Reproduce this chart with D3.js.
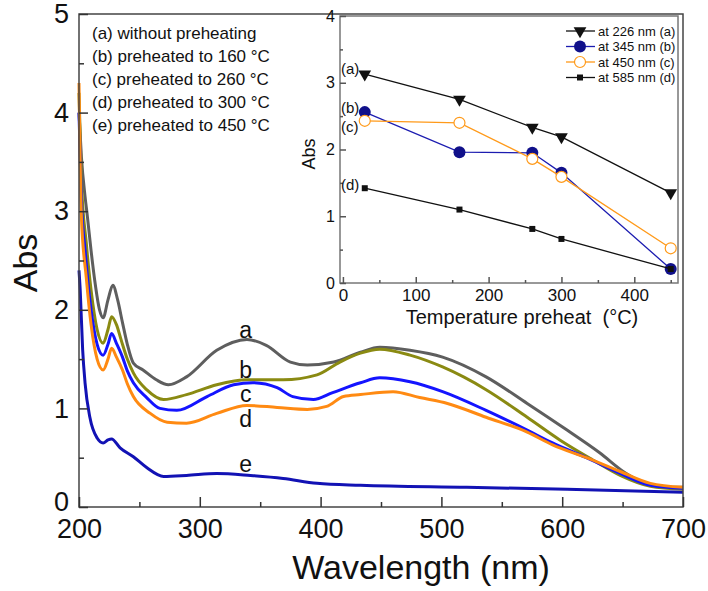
<!DOCTYPE html>
<html>
<head>
<meta charset="utf-8">
<script src="https://cdn.jsdelivr.net/npm/d3@7"></script>
<style>
  body { margin: 0; background: #fff; }
  svg text { font-family: "Liberation Sans", Arial, sans-serif; }
</style>
</head>
<body>
<svg id="chart" width="708" height="591"></svg>
<script>
// main spectra: [wavelength nm, absorbance]
const curveA = [[200, 4.0], [202, 3.55], [205, 3.15], [207, 2.94], [210, 2.6], [213, 2.3], [217, 2.0], [220, 1.92], [224, 2.1], [228, 2.25], [232, 2.1], [236, 1.87], [240, 1.65], [245, 1.46], [253, 1.39], [264, 1.29], [274, 1.24], [289, 1.32], [314, 1.59], [339, 1.70], [355, 1.64], [375, 1.47], [389, 1.44], [411, 1.47], [433, 1.57], [449, 1.62], [474, 1.59], [501, 1.52], [537, 1.32], [571, 1.05], [604, 0.78], [631, 0.55], [653, 0.34], [673, 0.22], [687, 0.20], [700, 0.20]];
const curveB = [[200, 4.2], [202, 3.3], [206, 2.68], [210, 2.2], [215, 1.8], [220, 1.66], [224, 1.8], [227, 1.93], [231, 1.85], [235, 1.69], [240, 1.5], [245, 1.36], [256, 1.19], [270, 1.09], [289, 1.14], [314, 1.24], [339, 1.29], [369, 1.29], [397, 1.34], [416, 1.47], [433, 1.56], [449, 1.60], [474, 1.54], [501, 1.42], [537, 1.19], [571, 0.91], [598, 0.68], [625, 0.48], [648, 0.32], [673, 0.21], [700, 0.18]];
const curveC = [[200, 4.0], [202, 3.1], [205, 2.61], [210, 2.0], [215, 1.65], [220, 1.54], [224, 1.65], [227, 1.76], [231, 1.66], [236, 1.52], [240, 1.38], [245, 1.26], [256, 1.11], [267, 1.00], [281, 0.98], [306, 1.12], [328, 1.24], [344, 1.26], [364, 1.21], [377, 1.12], [394, 1.09], [410, 1.16], [433, 1.26], [449, 1.31], [474, 1.27], [501, 1.17], [537, 0.98], [571, 0.78], [592, 0.65], [620, 0.50], [648, 0.34], [673, 0.22], [700, 0.19]];
const curveD = [[200, 4.3], [202, 2.94], [206, 2.33], [210, 1.85], [215, 1.5], [220, 1.39], [224, 1.5], [227, 1.61], [231, 1.52], [236, 1.39], [240, 1.25], [245, 1.12], [259, 0.95], [273, 0.86], [289, 0.85], [314, 0.95], [339, 1.03], [364, 1.01], [389, 0.99], [405, 1.02], [419, 1.12], [433, 1.14], [460, 1.17], [482, 1.11], [505, 1.05], [537, 0.91], [571, 0.76], [592, 0.63], [620, 0.50], [648, 0.36], [673, 0.24], [700, 0.20]];
const curveE = [[200, 2.4], [201, 2.2], [203, 1.6], [205, 1.26], [209, 0.91], [215, 0.70], [220, 0.65], [224, 0.68], [227, 0.69], [234, 0.60], [245, 0.51], [256, 0.40], [270, 0.31], [289, 0.32], [314, 0.34], [342, 0.32], [369, 0.29], [397, 0.24], [433, 0.22], [521, 0.20], [604, 0.18], [700, 0.15]];

const curveNames = ['a', 'b', 'c', 'd', 'e'];
const curveColors = ['#5e5e5e', '#8a8a12', '#1414ff', '#ff8a12', '#1212b4'];
const legendLines = ['(a) without preheating', '(b) preheated to 160 °C', '(c) preheated to 260 °C', '(d) preheated to 300 °C', '(e) preheated to 450 °C'];

// inset: absorbance vs preheat temperature
const preheatTemps = [30, 160, 260, 300, 450];
const abs226 = [3.13, 2.75, 2.33, 2.19, 1.35];
const abs345 = [2.56, 1.96, 1.95, 1.65, 0.21];
const abs450 = [2.43, 2.40, 1.86, 1.59, 0.52];
const abs585 = [1.42, 1.10, 0.81, 0.66, 0.21];
const insetLabels = ['at 226 nm (a)', 'at 345 nm (b)', 'at 450 nm (c)', 'at 585 nm (d)'];

const svg = d3.select('#chart');

// ---------- main plot ----------
const m = { left: 79, top: 14, right: 683, bottom: 507 };
const x = d3.scaleLinear().domain([200, 700]).range([m.left, m.right]);
const y = d3.scaleLinear().domain([0, 5]).range([m.bottom, m.top]);

const line = d3.line().x(d => x(d[0])).y(d => y(d[1])).curve(d3.curveMonotoneX);

[curveA, curveB, curveC, curveD, curveE].forEach((c, i) => {
  svg.append('path')
    .datum(c)
    .attr('d', line)
    .attr('fill', 'none')
    .attr('stroke', curveColors[i])
    .attr('stroke-width', 3);
});

// frame
svg.append('rect')
  .attr('x', m.left).attr('y', m.top)
  .attr('width', m.right - m.left).attr('height', m.bottom - m.top)
  .attr('fill', 'none').attr('stroke', '#444').attr('stroke-width', 1.5);

function styleAxis(g, size, color) {
  g.select('.domain').remove();
  g.selectAll('line').attr('stroke', color).attr('stroke-width', 1.5);
  g.selectAll('text').attr('font-size', size).attr('fill', '#111');
}

// x axis
svg.append('g').attr('transform', `translate(0,${m.bottom})`)
  .call(d3.axisBottom(x).tickValues(d3.range(250, 700, 100)).tickSize(-5).tickFormat(''))
  .call(g => styleAxis(g, 27, '#333'));
svg.append('g').attr('transform', `translate(0,${m.bottom})`)
  .call(d3.axisBottom(x).tickValues(d3.range(200, 701, 100)).tickSize(-10).tickPadding(12).tickFormat(d3.format('d')))
  .call(g => styleAxis(g, 27, '#333'));

// y axis
svg.append('g').attr('transform', `translate(${m.left},0)`)
  .call(d3.axisLeft(y).tickValues([0.5, 1.5, 2.5, 3.5, 4.5]).tickSize(-5).tickFormat(''))
  .call(g => styleAxis(g, 27, '#333'));
svg.append('g').attr('transform', `translate(${m.left},0)`)
  .call(d3.axisLeft(y).tickValues([0, 1, 2, 3, 4, 5]).tickSize(-9).tickPadding(10).tickFormat(d3.format('d')))
  .call(g => styleAxis(g, 27, '#333'))
  .call(g => g.selectAll('.tick').filter(d => d === 0).select('text').attr('dy', '0.12em'));

svg.append('text')
  .attr('x', 421).attr('y', 579)
  .attr('text-anchor', 'middle').attr('font-size', 34).attr('fill', '#111')
  .text('Wavelength (nm)');
svg.append('text')
  .attr('transform', 'translate(37,263) rotate(-90)')
  .attr('text-anchor', 'middle').attr('font-size', 34).attr('fill', '#111')
  .text('Abs');

// legend text
legendLines.forEach((t, i) => {
  svg.append('text')
    .attr('x', 92).attr('y', 39 + i * 23)
    .attr('font-size', 17).attr('fill', '#111')
    .text(t);
});

// curve labels
const curveLabelY = [338, 378, 402, 427, 472];
curveNames.forEach((n, i) => {
  svg.append('text')
    .attr('x', x(338)).attr('y', curveLabelY[i])
    .attr('text-anchor', 'middle').attr('font-size', 23).attr('fill', '#111')
    .text(n);
});

// ---------- inset ----------
const im = { left: 340, top: 16, right: 678, bottom: 283 };
const ix = d3.scaleLinear().domain([-4, 460]).range([im.left, im.right]);
const iy = d3.scaleLinear().domain([0, 4]).range([im.bottom, im.top]);

svg.append('rect')
  .attr('x', im.left).attr('y', im.top)
  .attr('width', im.right - im.left).attr('height', im.bottom - im.top)
  .attr('fill', '#fff').attr('stroke', '#777').attr('stroke-width', 1.5);

svg.append('g').attr('transform', `translate(0,${im.bottom})`)
  .call(d3.axisBottom(ix).tickValues([50, 150, 250, 350, 450]).tickSize(-3).tickFormat(''))
  .call(g => styleAxis(g, 17, '#555'));
svg.append('g').attr('transform', `translate(0,${im.bottom})`)
  .call(d3.axisBottom(ix).tickValues([0, 100, 200, 300, 400]).tickSize(-6).tickPadding(6).tickFormat(d3.format('d')))
  .call(g => styleAxis(g, 17, '#555'));
svg.append('g').attr('transform', `translate(${im.left},0)`)
  .call(d3.axisLeft(iy).tickValues([0.5, 1.5, 2.5, 3.5]).tickSize(-3).tickFormat(''))
  .call(g => styleAxis(g, 16, '#555'));
svg.append('g').attr('transform', `translate(${im.left},0)`)
  .call(d3.axisLeft(iy).tickValues([0, 1, 2, 3, 4]).tickSize(-6).tickPadding(5).tickFormat(d3.format('d')))
  .call(g => styleAxis(g, 16, '#555'));

svg.append('text')
  .attr('x', 522).attr('y', 324)
  .attr('text-anchor', 'middle').attr('font-size', 20).attr('fill', '#111')
  .style('white-space', 'pre')
  .text('Temperature preheat  (°C)');
svg.append('text')
  .attr('transform', 'translate(315,154) rotate(-90)')
  .attr('text-anchor', 'middle').attr('font-size', 18).attr('fill', '#111')
  .text('Abs');

const insetSeries = [
  { vals: abs226, color: '#111', marker: 'tri', fill: '#111' },
  { vals: abs345, color: '#1c1cb0', marker: 'circle', fill: '#10108a' },
  { vals: abs450, color: '#ff9a1a', marker: 'circle', fill: '#fff' },
  { vals: abs585, color: '#111', marker: 'square', fill: '#111' }
];
const iline = d3.line().x(d => ix(d[0])).y(d => iy(d[1]));
const symTri = d3.symbol().type(d3.symbolTriangle).size(70);
const symSq = d3.symbol().type(d3.symbolSquare).size(36);

function drawMarker(g, s, cx, cy) {
  if (s.marker === 'tri') {
    g.append('path').attr('d', symTri).attr('transform', `translate(${cx},${cy}) rotate(180)`).attr('fill', s.fill);
  } else if (s.marker === 'square') {
    g.append('path').attr('d', symSq).attr('transform', `translate(${cx},${cy})`).attr('fill', s.fill);
  } else {
    g.append('circle').attr('cx', cx).attr('cy', cy).attr('r', s.fill === '#fff' ? 5.5 : 6)
      .attr('fill', s.fill).attr('stroke', s.color).attr('stroke-width', s.fill === '#fff' ? 1.2 : 0);
  }
}

insetSeries.forEach(s => {
  const pts = preheatTemps.map((t, i) => [t, s.vals[i]]);
  svg.append('path').datum(pts).attr('d', iline)
    .attr('fill', 'none').attr('stroke', s.color).attr('stroke-width', 1.3);
  const g = svg.append('g');
  pts.forEach(p => drawMarker(g, s, ix(p[0]), iy(p[1])));
});

// inset legend
insetLabels.forEach((t, i) => {
  const ly = 31 + i * 15.5;
  const s = insetSeries[i];
  svg.append('line').attr('x1', 566).attr('x2', 595).attr('y1', ly).attr('y2', ly)
    .attr('stroke', s.color).attr('stroke-width', 1.3);
  const g = svg.append('g');
  drawMarker(g, s, 580, ly);
  svg.append('text').attr('x', 598).attr('y', ly + 4.5)
    .attr('font-size', 13).attr('fill', '#111').text(t);
});

// inset point labels
const insetTags = ['(a)', '(b)', '(c)', '(d)'];
const insetTagY = [74, 113, 132, 190];
insetTags.forEach((t, i) => {
  svg.append('text').attr('x', 341).attr('y', insetTagY[i])
    .attr('font-size', 15).attr('fill', '#111').text(t);
});
</script>
</body>
</html>
